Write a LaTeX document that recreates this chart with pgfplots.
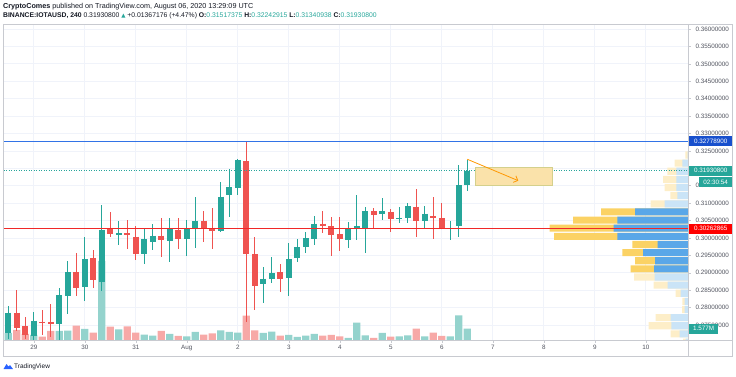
\documentclass[border=0pt]{standalone}
\usepackage{fontspec}
\setmainfont{Liberation Sans}
\newfontfamily\dejavu{DejaVu Sans}
\usepackage{pgfplots}
\pgfplotsset{compat=1.18}
\usepackage{pgfplotstable}
\usetikzlibrary{arrows.meta}

\definecolor{upcol}{RGB}{38,166,154}
\definecolor{downcol}{RGB}{239,83,80}
\definecolor{volup}{RGB}{148,211,205}
\definecolor{voldown}{RGB}{247,169,167}
\definecolor{profblue}{RGB}{90,167,232}
\definecolor{profyel}{RGB}{251,210,100}
\definecolor{lprofblue}{RGB}{202,228,247}
\definecolor{lprofyel}{RGB}{253,238,200}
\definecolor{gridcol}{RGB}{240,243,250}
\definecolor{bordercol}{RGB}{200,202,208}
\definecolor{tvtext}{RGB}{19,23,34}
\definecolor{tvlabel}{RGB}{80,83,94}
\definecolor{lineblue}{RGB}{50,115,230}
\definecolor{boxblue}{RGB}{24,80,205}
\definecolor{linered}{RGB}{240,40,40}
\definecolor{boxred}{RGB}{255,0,0}
\definecolor{rectfill}{RGB}{250,226,170}
\definecolor{rectdraw}{RGB}{212,208,140}
\definecolor{arrowor}{RGB}{255,152,0}
\definecolor{tvlogo}{RGB}{41,98,255}

% i = 4h candle index (0 = Jul 28 12:00); o h l c in USD; v = volume (millions)
\pgfplotstableread{
i o h l c v
0 0.2726 0.2805 0.2710 0.2786 0.98
3 0.2719 0.2787 0.2707 0.2763 0.70
6 0.2754 0.2855 0.2707 0.2836 1.26
7 0.2833 0.2934 0.2782 0.2902 1.30
9 0.2860 0.3004 0.2820 0.2940 1.54
11 0.2875 0.3094 0.2848 0.3023 11.03
13 0.3011 0.3050 0.2980 0.3013 1.49
16 0.2955 0.3027 0.2925 0.2997 0.74
17 0.2989 0.3040 0.2966 0.3007 0.60
19 0.2992 0.3056 0.2931 0.3025 0.84
21 0.2997 0.3052 0.2948 0.3025 0.52
22 0.3029 0.3119 0.2970 0.3050 1.12
25 0.3020 0.3162 0.3018 0.3119 1.35
26 0.3122 0.3197 0.3061 0.3145 1.12
27 0.3144 0.3226 0.3122 0.3224 1.02
30 0.2867 0.2916 0.2814 0.2883 0.98
31 0.2881 0.2946 0.2870 0.2900 1.16
33 0.2886 0.2985 0.2832 0.2940 0.70
34 0.2942 0.2998 0.2930 0.2974 0.42
35 0.2975 0.3018 0.2956 0.2999 0.60
36 0.2996 0.3064 0.2980 0.3041 0.84
40 0.2994 0.3047 0.2972 0.3029 0.28
41 0.3029 0.3123 0.2994 0.3033 2.42
42 0.3029 0.3088 0.2958 0.3077 0.66
44 0.3069 0.3114 0.3052 0.3077 0.98
46 0.3055 0.3090 0.3044 0.3058 0.52
47 0.3056 0.3100 0.3044 0.3091 0.66
49 0.3049 0.3091 0.3027 0.3070 0.52
52 0.3025 0.3050 0.2994 0.3028 0.52
53 0.3034 0.3210 0.3002 0.3152 3.45
54 0.31517375 0.32242915 0.31340938 0.31930800 1.577
}\up

\pgfplotstableread{
i o h l c v
1 0.2786 0.2851 0.2734 0.2741 1.40
2 0.2747 0.2774 0.2709 0.2721 0.84
4 0.2760 0.2793 0.2721 0.2757 0.46
5 0.2758 0.2810 0.2715 0.2754 1.26
8 0.2902 0.2956 0.2832 0.2856 2.00
10 0.2943 0.2966 0.2855 0.2878 1.02
12 0.3029 0.3076 0.3004 0.3011 1.86
14 0.3013 0.3052 0.2968 0.3011 1.91
15 0.3004 0.3033 0.2937 0.2955 1.02
18 0.3007 0.3056 0.2946 0.2994 1.26
20 0.3023 0.3058 0.2968 0.2997 0.56
23 0.3050 0.3078 0.2989 0.3029 0.74
24 0.3030 0.3085 0.2968 0.3019 0.94
28 0.3221 0.32779 0.2760 0.2953 3.39
29 0.2954 0.3002 0.2793 0.2862 1.35
32 0.2902 0.2924 0.2844 0.2882 0.60
37 0.3041 0.3077 0.3013 0.3033 0.60
38 0.3033 0.3060 0.2948 0.3008 0.70
39 0.3011 0.3059 0.2964 0.2996 0.52
43 0.3077 0.3085 0.3030 0.3066 0.28
45 0.3075 0.3084 0.3016 0.3054 0.46
48 0.3090 0.3142 0.3004 0.3049 1.58
50 0.3063 0.3117 0.2996 0.3058 1.02
51 0.3056 0.3100 0.3025 0.3025 0.56
}\down

% visible range volume profile: price bin, up (blue) part, total length
\pgfplotstableread{
p blue tot
0.30748 53.0 87.0
0.30514 70.7 115.0
0.30281 74.3 138.3
0.30047 70.7 134.0
0.29814 30.3 55.6
0.29580 45.0 65.7
0.29347 33.0 53.0
0.29113 34.0 57.3
}\profdark

\pgfplotstableread{
p blue tot
0.32382 0.5 2.7
0.32149 5.7 13.4
0.31915 11.7 20.7
0.31682 11.7 25.0
0.31448 11.7 23.4
0.31215 10.7 17.7
0.30981 23.3 37.3
0.28880 33.3 54.0
0.28646 20.3 34.3
0.28413 7.3 12.3
0.28179 3.3 5.6
0.27946 3.3 6.0
0.27712 17.3 32.3
0.27479 16.7 39.4
0.27245 8.3 17.3
0.27012 2.3 5.0
}\proflight

\pgfplotsset{
  common/.style={scale only axis, width=684.5pt, height=316pt,
    at={(3.5pt,36pt)}, anchor=south west},
  pricey/.style={ymin=0.270709, ymax=0.361436},
  candlex/.style={xmin=-0.565, xmax=79.965},
  candle/.style={only marks, mark=*, mark size=0pt, mark options={draw=none, fill=none},
    error bars/.cd, y dir=both, y explicit, error mark=none},
}

\begin{document}
\begin{tikzpicture}
\useasboundingbox (0,0) rectangle (736pt,376pt);

% grid
\begin{axis}[common, pricey, candlex,
  axis line style={draw=none}, major tick length=0pt,
  xtick={3,9,...,75}, xticklabels={},
  ytick={0.275,0.28,0.285,0.29,0.295,0.30,0.305,0.31,0.315,0.32,0.325,0.33,0.335,0.34,0.345,0.35,0.355,0.36},
  yticklabels={}, grid=major, major grid style={gridcol, line width=0.7pt}]
\addplot[draw=none] coordinates {(0,0.3)};
\end{axis}

% volume
\begin{axis}[common, candlex, ymin=0, ymax=44.1, hide axis,
  ybar, bar width=7.3pt, bar shift=0pt, clip=false]
\addplot[fill=volup, draw=none] table[x=i, y=v] {\up};
\addplot[fill=voldown, draw=none] table[x=i, y=v] {\down};
\coordinate (volpt) at (axis cs:54,1.577);
\end{axis}

% volume profile
\begin{axis}[common, pricey, xmin=0, xmax=684.5, x dir=reverse, hide axis,
  xbar, bar width=7.1pt, bar shift=0pt]
\addplot[fill=profyel, draw=none] table[x=tot, y=p] {\profdark};
\addplot[fill=profblue, draw=none] table[x=blue, y=p] {\profdark};
\addplot[fill=lprofyel, draw=none] table[x=tot, y=p] {\proflight};
\addplot[fill=lprofblue, draw=none] table[x=blue, y=p] {\proflight};
\end{axis}

% price
\begin{axis}[common, pricey, candlex, clip=false,
  axis line style={draw=bordercol, line width=0.7pt},
  tick align=outside, major tick length=2.5pt,
  tick style={draw=bordercol, line width=0.6pt},
  xtick={3,9,...,75},
  xticklabels={29,30,31,Aug,2,3,4,5,6,7,8,9,10},
  xtick pos=bottom,
  xticklabel style={font=\fontsize{6.3}{7}\selectfont, text=tvlabel, yshift=0.5pt},
  ytick={0.275,0.28,0.285,0.29,0.295,0.30,0.305,0.31,0.315,0.32,0.325,0.33,0.335,0.34,0.345,0.35,0.355,0.36},
  yticklabels={0.27500000,0.28000000,0.28500000,0.29000000,0.29500000,0.30000000,0.30500000,0.31000000,0.31500000,{},0.32500000,0.33000000,0.33500000,0.34000000,0.34500000,0.35000000,0.35500000,0.36000000},
  ytick pos=right, yticklabel pos=right,
  yticklabel style={font=\fontsize{6.3}{7}\selectfont, text=tvlabel, xshift=1.5pt},
]
% wicks
\addplot[candle, error bar style={line width=0.9pt, draw=upcol}]
  table[x=i, y=c, y error plus expr=\thisrow{h}-\thisrow{c}, y error minus expr=\thisrow{c}-\thisrow{l}] {\up};
\addplot[candle, error bar style={line width=0.9pt, draw=downcol}]
  table[x=i, y=c, y error plus expr=\thisrow{h}-\thisrow{c}, y error minus expr=\thisrow{c}-\thisrow{l}] {\down};
% bodies
\addplot[candle, error bar style={line width=6pt, draw=upcol}]
  table[x=i, y=c, y error plus expr=0, y error minus expr={max(\thisrow{c}-\thisrow{o},0.0003)}] {\up};
\addplot[candle, error bar style={line width=6pt, draw=downcol}]
  table[x=i, y=o, y error plus expr=0, y error minus expr={max(\thisrow{o}-\thisrow{c},0.0003)}] {\down};

% horizontal levels
\addplot[lineblue, line width=1.1pt] coordinates {(-0.565,0.327789) (79.965,0.327789)};
\addplot[linered, line width=1.1pt] coordinates {(-0.565,0.30262865) (79.965,0.30262865)};
\addplot[upcol, line width=0.5pt, dotted] coordinates {(-0.565,0.319308) (79.965,0.319308)};

% projection
\addplot[fill=rectfill, draw=rectdraw, line width=0.7pt] coordinates {(54.9,0.32038) (63.96,0.32038) (63.96,0.31521) (54.9,0.31521)} -- cycle;
\addplot[arrowor, line width=0.8pt, -{Straight Barb[length=3.5pt,width=7pt]}] coordinates {(54.0,0.3226) (60.0,0.31645)};

\coordinate (pblue) at (axis cs:0,0.327789);
\coordinate (pteal) at (axis cs:0,0.319308);
\coordinate (pred) at (axis cs:0,0.30262865);
\end{axis}

% outer frame
\draw[bordercol, line width=0.7pt] (3.5pt,20pt) rectangle (732pt,352pt);
\draw[bordercol, line width=0.7pt] (688pt,20pt) -- (688pt,352pt);
\draw[bordercol, line width=0.7pt] (3.5pt,36pt) -- (732pt,36pt);

% price labels
\tikzset{pl/.style={text=white, font=\fontsize{6.3}{7}\selectfont, inner xsep=1.5pt, inner ysep=0pt, minimum height=10pt, anchor=west}}
\node[pl, fill=boxblue, minimum width=43pt] at ({689pt,0}|-pblue) {0.32778900};
\node[pl, fill=upcol, minimum width=43pt] (tealbox) at ({689pt,0}|-pteal) {0.31930800};
\node[pl, fill=upcol, minimum width=33pt, anchor=north east] at ([yshift=-1pt]tealbox.south east) {02:30:54};
\node[pl, fill=boxred, minimum width=43pt] at ({689pt,0}|-pred) {0.30262865};
\node[pl, fill=upcol, minimum width=29pt] at ({689pt,0}|-volpt) {1.577M};

% header
\node[anchor=west, inner sep=0pt, text=tvtext, font=\fontsize{7.2}{8}\selectfont] at (3pt,369pt)
  {\textbf{CryptoComes} published on TradingView.com, August 06, 2020 13:29:09 UTC};
\node[anchor=west, inner sep=0pt, text=tvtext, font=\fontsize{6.8}{8}\selectfont] at (3pt,360pt)
  {\textbf{BINANCE:IOTAUSD, 240} 0.31930800 {\dejavu\fontsize{5.5}{7}\selectfont\textcolor{upcol}{▲}} +0.01367176 (+4.47\%) \textbf{O:}\textcolor{upcol}{0.31517375} \textbf{H:}\textcolor{upcol}{0.32242915} \textbf{L:}\textcolor{upcol}{0.31340938} \textbf{C:}\textcolor{upcol}{0.31930800}};

% footer
\fill[tvlogo] (3.5pt,7pt) -- (6.5pt,12pt) -- (8.5pt,9.5pt) -- (10pt,11pt) -- (13pt,7pt) -- cycle;
\node[anchor=west, inner sep=0pt, text=tvtext, font=\fontsize{6.5}{7}\selectfont] at (14pt,9.5pt) {TradingView};
\end{tikzpicture}
\end{document}
